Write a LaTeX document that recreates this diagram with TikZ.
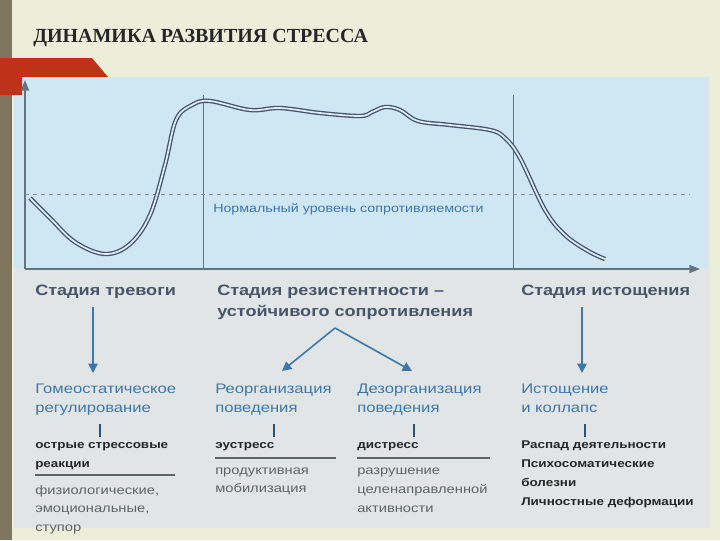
\documentclass[tikz,border=0pt]{standalone}
\usepackage{fontspec}
\setmainfont{Liberation Serif}
\newfontfamily\sfont[FakeStretch=1.2]{Liberation Sans}
\usetikzlibrary{arrows.meta}
\definecolor{bgc}{RGB}{236,238,218}
\definecolor{strip}{RGB}{125,118,92}
\definecolor{redt}{RGB}{190,50,25}
\definecolor{panel}{RGB}{226,229,229}
\definecolor{sky}{RGB}{207,230,243}
\definecolor{axc}{RGB}{100,115,130}
\definecolor{head}{RGB}{70,85,105}
\definecolor{bl}{RGB}{60,120,172}
\definecolor{gr}{RGB}{95,100,105}
\tikzset{
 hd/.style={anchor=base west,inner sep=0,font=\sfont\bfseries\fontsize{11.3}{12}\selectfont,text=head},
 bt/.style={anchor=base west,inner sep=0,font=\sfont\fontsize{10.4}{12}\selectfont,text=bl},
 kt/.style={anchor=base west,inner sep=0,font=\sfont\bfseries\fontsize{8.4}{10}\selectfont,text=black!85},
 gt/.style={anchor=base west,inner sep=0,font=\sfont\fontsize{9.2}{10}\selectfont,text=gr},
 arr/.style={draw=bl,line width=1.2pt,-{Triangle[length=7pt,width=7pt]}},
 tick/.style={draw=bl!70!black,line width=1.2pt},
 sep/.style={draw=gr,line width=0.8pt},
}
\begin{document}
\begin{tikzpicture}[x=0.75pt,y=-0.75pt]
\fill[bgc] (0,0) rectangle (720,540);
\fill[strip] (0,0) rectangle (12,540);
\fill[panel] (14,77) rectangle (710,528);
\fill[sky] (14,77) rectangle (707,268);
\fill[redt] (0,58) -- (92,58) -- (108,77) -- (22,77) -- (22,95) -- (0,95) -- cycle;
\node[anchor=base west,inner sep=0,font=\bfseries\fontsize{15}{16}\selectfont,text=black!85] (title) at (33,42) {ДИНАМИКА РАЗВИТИЯ СТРЕССА};
% axes
\coordinate (o) at (25,269);
\coordinate (ytop) at (25,80);
\coordinate (xend) at (700,269);
\draw[axc,line width=1.3pt,-{Triangle[length=8pt,width=6pt]}] (o) -- (ytop);
\draw[axc,line width=1.3pt,-{Triangle[length=8pt,width=6pt]}] (o) -- (xend);
\coordinate (v1t) at (203,95); \coordinate (v1b) at (203,269);
\coordinate (v2t) at (513,95); \coordinate (v2b) at (513,269);
\draw[axc,line width=0.6pt] (v1t) -- (v1b);
\draw[axc,line width=0.6pt] (v2t) -- (v2b);
\coordinate (d1) at (25,194); \coordinate (d2) at (690,194);
\draw[axc!80,dashed,line width=0.6pt] (d1) -- (d2);
\node[anchor=base west,inner sep=0,font=\sfont\fontsize{8.9}{10}\selectfont,text=bl] (norm) at (213,212) {Нормальный уровень сопротивляемости};
% curve
\draw[double=sky!70!white,double distance=1.3pt,draw=head,line width=1pt] plot[smooth,tension=0.6] coordinates {(30,198) (50,218) (75,242) (105,254) (130,244) (150,215) (165,165) (176,120) (192,105) (210,101) (250,110) (280,108) (320,113) (360,116) (372,112) (385,107) (400,110) (418,121) (450,125) (490,130) (505,138) (520,158) (545,210) (565,235) (588,251) (605,259)};
% headings
\node[hd] (s1) at (35,295) {Стадия тревоги};
\node[hd] (s2) at (217,295) {Стадия резистентности –};
\node[hd] (s2b) at (217,316) {устойчивого сопротивления};
\node[hd] (s3) at (521,295) {Стадия истощения};
% blue texts
\node[bt] (b1) at (35,393) {Гомеостатическое};
\node[bt] (b1b) at (35,412) {регулирование};
\node[bt] (b2) at (215,393) {Реорганизация};
\node[bt] (b2b) at (215,412) {поведения};
\node[bt] (b3) at (357,393) {Дезорганизация};
\node[bt] (b3b) at (357,412) {поведения};
\node[bt] (b4) at (521,393) {Истощение};
\node[bt] (b4b) at (521,412) {и коллапс};
% arrows
\coordinate (a1s) at (93,307); \coordinate (a1e) at (93,373);
\coordinate (a4s) at (582,307); \coordinate (a4e) at (582,373);
\coordinate (a2s) at (335,328); \coordinate (a2e) at (282,371); \coordinate (a3e) at (412,371);
\draw[arr] (a1s) -- (a1e);
\draw[arr] (a4s) -- (a4e);
\draw[arr] (a2s) -- (a2e);
\draw[arr] (a2s) -- (a3e);
% ticks
\foreach \x/\n in {100/t1,274/t2,414/t3,585/t4}{
 \coordinate (\n a) at (\x,424); \coordinate (\n b) at (\x,437);
 \draw[tick] (\n a) -- (\n b);}
% black
\node[kt] (k1) at (35,448) {острые стрессовые};
\node[kt] (k1b) at (35,467) {реакции};
\node[kt] (k2) at (215,448) {эустресс};
\node[kt] (k3) at (357,448) {дистресс};
\node[kt] (k4) at (521,448) {Распад деятельности};
\node[kt] (k4b) at (521,467) {Психосоматические};
\node[kt] (k4c) at (521,486) {болезни};
\node[kt] (k4d) at (521,505) {Личностные деформации};
\coordinate (l1a) at (35,475); \coordinate (l1b) at (175,475);
\coordinate (l2a) at (215,458); \coordinate (l2b) at (336,458);
\coordinate (l3a) at (357,458); \coordinate (l3b) at (490,458);
\draw[sep] (l1a) -- (l1b);
\draw[sep] (l2a) -- (l2b);
\draw[sep] (l3a) -- (l3b);
% gray
\node[gt] (g1) at (35,494) {физиологические,};
\node[gt] (g1b) at (35,512) {эмоциональные,};
\node[gt] (g1c) at (35,531) {ступор};
\node[gt] (g2) at (215,474) {продуктивная};
\node[gt] (g2b) at (215,492) {мобилизация};
\node[gt] (g3) at (357,474) {разрушение};
\node[gt] (g3b) at (357,493) {целенаправленной};
\node[gt] (g3c) at (357,512) {активности};
\end{tikzpicture}
\end{document}
